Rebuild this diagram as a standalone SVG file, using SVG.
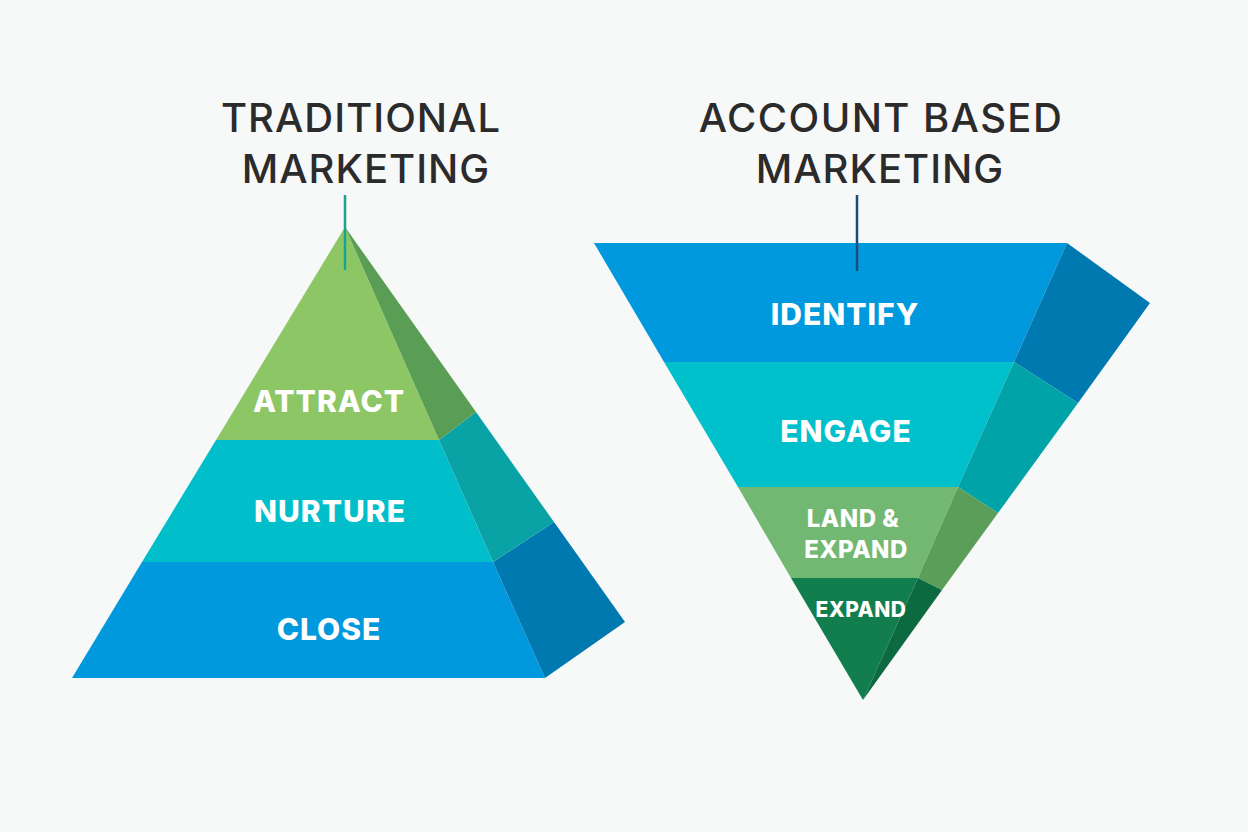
<svg xmlns="http://www.w3.org/2000/svg" width="1248" height="832" viewBox="0 0 1248 832">
  <style>
    .title { font-family: Inter, "Open Sans", sans-serif; font-weight: 500; font-size: 40px; fill: #2b2b2b; text-anchor: middle; letter-spacing: 1px; }
    .lbl { font-family: Inter, "Open Sans", sans-serif; font-weight: 800; fill: #ffffff; text-anchor: middle; }
    .l1 { font-size: 30px; letter-spacing: 1px; }
    .l2 { font-size: 24px; letter-spacing: 0.5px; }
    .l3 { font-size: 21px; letter-spacing: 0.5px; }
  </style>
  <rect x="0" y="0" width="1248" height="832" fill="#f7f8f8"/>

  <g id="title-traditional">
    <text class="title" x="361" y="132">TRADITIONAL</text>
    <text class="title" x="366" y="183">MARKETING</text>
  </g>
  <g id="title-abm">
    <text class="title" x="881" y="132" style="letter-spacing:1.4px">ACCOUNT BASED</text>
    <text class="title" x="880" y="183">MARKETING</text>
  </g>

  <g id="pyramid-close">
    <polygon points="142,562 493,562 545,678 72,678" fill="#0099dd"/>
    <polygon points="493,562 554,522 625,622 545,678" fill="#0079b0"/>
    <text class="lbl l1" x="329" y="640">CLOSE</text>
  </g>
  <g id="pyramid-nurture">
    <polygon points="216,440 439,440 493,562 142,562" fill="#00bfcb"/>
    <polygon points="439,440 476,412 554,522 493,562" fill="#0aa3a5"/>
    <text class="lbl l1" x="330" y="522">NURTURE</text>
  </g>
  <g id="pyramid-attract">
    <polygon points="345,227 439,440 216,440" fill="#8dc765"/>
    <polygon points="345,227 476,412 439,440" fill="#5a9e55"/>
    <text class="lbl l1" x="329" y="412">ATTRACT</text>
  </g>

  <g id="funnel-identify">
    <polygon points="594,243 1067,243 1014,362 664,362" fill="#0099dd"/>
    <polygon points="1067,243 1150,303 1078,403 1014,362" fill="#0079b0"/>
    <text class="lbl l1" x="845" y="325">IDENTIFY</text>
  </g>
  <g id="funnel-engage">
    <polygon points="664,362 1014,362 958,487 738,487" fill="#00c0cc"/>
    <polygon points="1014,362 1078,403 998,513 958,487" fill="#00a3a8"/>
    <text class="lbl l1" x="846" y="442">ENGAGE</text>
  </g>
  <g id="funnel-land">
    <polygon points="738,487 958,487 918,578 791,578" fill="#72b872"/>
    <polygon points="958,487 998,513 942,590 918,578" fill="#5a9e5a"/>
    <text class="lbl l2" x="853" y="527">LAND &amp;</text>
    <text class="lbl l2" x="856" y="558">EXPAND</text>
  </g>
  <g id="funnel-expand">
    <polygon points="791,578 918,578 863,700" fill="#127e4e"/>
    <polygon points="918,578 942,590 863,700" fill="#0c6a40"/>
    <text class="lbl l3" x="861" y="617">EXPAND</text>
  </g>

  <g id="connectors">
    <line x1="345" y1="195" x2="345" y2="270" stroke="#1aa38f" stroke-width="2.5"/>
    <line x1="857" y1="195" x2="857" y2="271" stroke="#1a4e7a" stroke-width="2.5"/>
  </g>
</svg>
